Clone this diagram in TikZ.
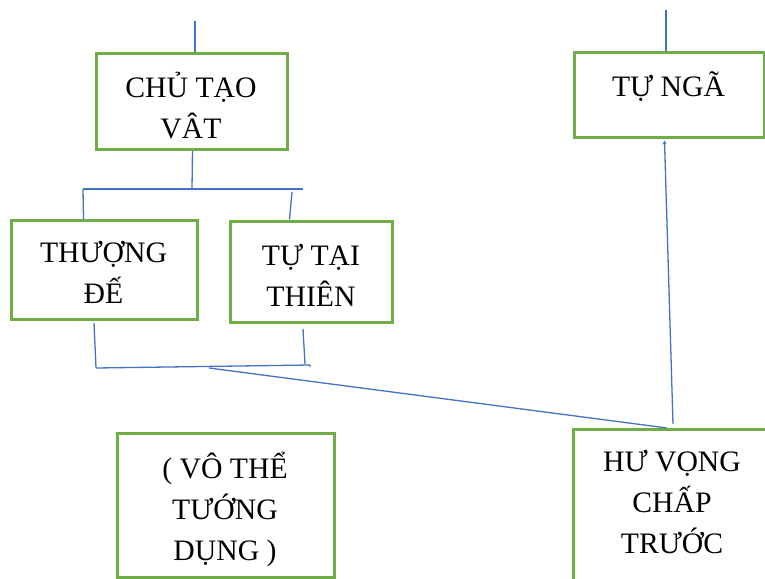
\documentclass[tikz,border=0pt]{standalone}
\usepackage{fontspec}
\setmainfont{Liberation Serif}
\usetikzlibrary{arrows.meta,calc}
\definecolor{boxgreen}{RGB}{112,173,71}
\definecolor{lineblue}{RGB}{68,114,196}
\tikzset{
  box/.style={draw=boxgreen, line width=3pt, rectangle, inner sep=0pt},
  txt/.style={anchor=north, inner sep=0pt, align=center,
    font=\fontsize{29.7}{41}\selectfont},
  conn/.style={draw=lineblue, line width=1.3pt},
}
\newcommand{\fstrut}{\vrule width 0pt height 26pt\relax}
\begin{document}
\begin{tikzpicture}[x=1pt,y=-1pt]
\clip (0,0) rectangle (765,578);
\fill[white] (0,0) rectangle (765,578);
% boxes
\node[box, minimum width=191pt, minimum height=95pt] (chu) at (191.5,101.5) {};
\node[box, minimum width=186pt, minimum height=99pt] (thuong) at (104,269.5) {};
\node[box, minimum width=162pt, minimum height=101pt] (tutai) at (311,271.5) {};
\node[box, minimum width=190pt, minimum height=84pt] (tunga) at (669,95) {};
\node[box, minimum width=217pt, minimum height=144pt] (vo) at (225.5,505) {};
\node[box, minimum width=199pt, minimum height=156pt] (hu) at (672.5,507) {};
% texts
\node[txt] (chut) at (191,71) {\fstrut CHỦ TẠO\\VÂT};
\node[txt] (thuongt) at (103.5,236) {\fstrut THƯỢNG\\ĐẾ};
\node[txt] (tutait) at (311,239) {\fstrut TỰ TẠI\\THIÊN};
\node[txt] (tungat) at (668.5,70) {\fstrut TỰ NGÃ};
\node[txt] (vot) at (225,452) {\fstrut ( VÔ THỂ\\TƯỚNG\\DỤNG )};
\node[txt] (hut) at (672,445) {\fstrut HƯ VỌNG\\CHẤP\\TRƯỚC};
% coordinates
\coordinate (top1) at (195,21);
\coordinate (top2) at (666,10);
\coordinate (j1) at (192,189);
\coordinate (hl) at (83,189);
\coordinate (hr) at (303,189);
\coordinate (rd) at (292,192);
\coordinate (b1) at (94,323);
\coordinate (bl) at (96,368);
\coordinate (b2) at (303,329);
\coordinate (b2e) at (305,364);
\coordinate (br) at (310,365);
\coordinate (bm) at (209,368);
\coordinate (hutop) at (667,428);
\coordinate (arrs) at (673,424);
% connectors
\draw[conn] (top1) -- (top1 |- chu.north);
\draw[conn] ($(chu.south west)+(98,0)$) -- (j1);
\draw[conn] (hl) -- (hr);
\draw[conn] (hl) -- ($(thuong.north west)+(74,1)$);
\draw[conn] (rd) -- ($(tutai.north west)+(61,0)$);
\draw[conn] (b1) -- (bl);
\draw[conn] (b2) -- (b2e);
\draw[conn] (bl) -- (br) -- ++(0,2);
\draw[conn] (bm) -- (hutop);
\draw[conn, -{Stealth[length=4pt,width=4pt]}] (arrs) -- ($(tunga.south west)+(92,2)$);
\draw[conn] (top2) -- (top2 |- tunga.north);
\end{tikzpicture}
\end{document}
